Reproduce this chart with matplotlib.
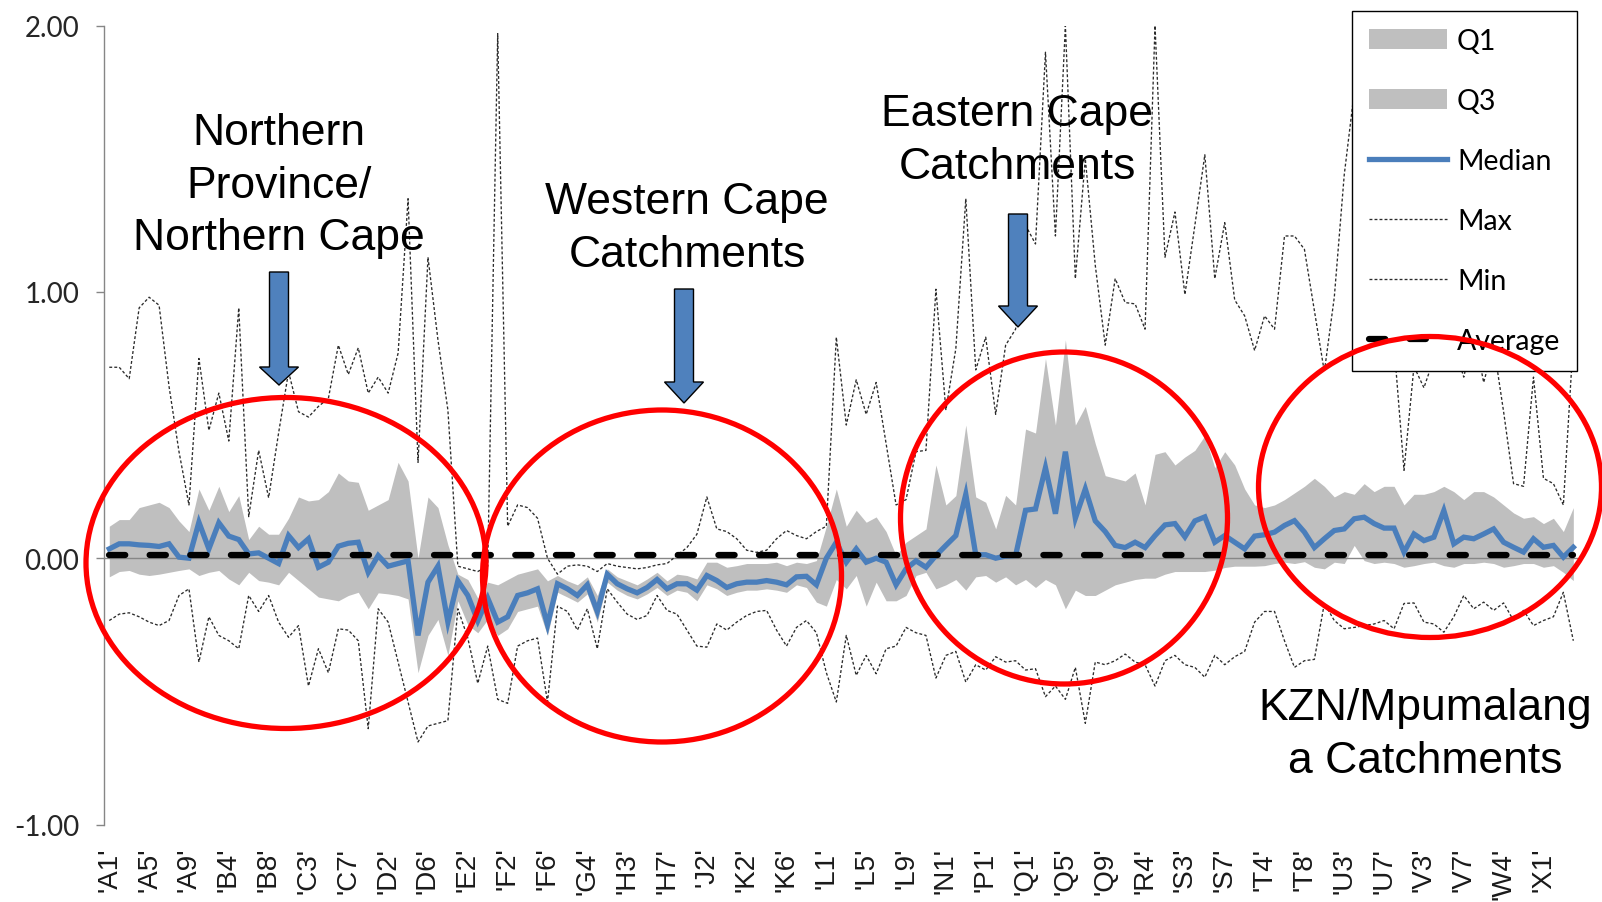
import matplotlib.pyplot as plt
import numpy as np
from matplotlib.patches import Ellipse, Polygon, Patch
from matplotlib.lines import Line2D

# catchment statistics, one value per catchment (148 catchments)
median = [
    0.035, 0.054, 0.054, 0.05, 0.048, 0.044, 0.054, 0.004, 0.0, 0.135,
    0.035, 0.133, 0.083, 0.07, 0.016, 0.02, 0.0, -0.02, 0.085, 0.04,
    0.073, -0.034, -0.015, 0.045, 0.056, 0.06, -0.053, 0.01, -0.03, -0.02,
    -0.01, -0.29, -0.09, -0.03, -0.24, -0.085, -0.14, -0.235, -0.15, -0.24,
    -0.22, -0.14, -0.13, -0.115, -0.25, -0.096, -0.115, -0.14, -0.10, -0.2,
    -0.06, -0.096, -0.115, -0.13, -0.11, -0.08, -0.115, -0.096, -0.096, -0.12,
    -0.065, -0.084, -0.11, -0.096, -0.09, -0.09, -0.084, -0.09, -0.10, -0.07,
    -0.068, -0.10, 0.0, 0.06, -0.015, 0.035, -0.015, 0.0, -0.015, -0.10,
    -0.04, -0.01, -0.034, 0.01, 0.048, 0.085, 0.24, 0.013, 0.013, 0.0,
    0.008, 0.01, 0.18, 0.185, 0.34, 0.167, 0.40, 0.15, 0.26, 0.14,
    0.10, 0.048, 0.04, 0.06, 0.04, 0.085, 0.125, 0.13, 0.08, 0.14,
    0.155, 0.06, 0.085, 0.06, 0.035, 0.083, 0.088, 0.098, 0.123, 0.141,
    0.098, 0.04, 0.073, 0.104, 0.11, 0.148, 0.154, 0.13, 0.113, 0.113,
    0.023, 0.091, 0.066, 0.079, 0.179, 0.054, 0.079, 0.073, 0.091, 0.11,
    0.06, 0.041, 0.023, 0.073, 0.041, 0.048, 0.004, 0.041]

q3 = [
    0.12, 0.145, 0.145, 0.19, 0.2, 0.21, 0.19, 0.14, 0.1, 0.26,
    0.18, 0.27, 0.175, 0.235, 0.07, 0.12, 0.09, 0.09, 0.15, 0.23,
    0.215, 0.22, 0.25, 0.32, 0.29, 0.285, 0.18, 0.2, 0.22, 0.36,
    0.29, 0.0, 0.23, 0.19, 0.05, -0.06, -0.08, -0.15, -0.09, -0.1,
    -0.08, -0.06, -0.05, -0.04, -0.085, -0.065, -0.085, -0.1, -0.07, -0.14,
    -0.04, -0.07, -0.085, -0.1, -0.078, -0.053, -0.085, -0.06, -0.065, -0.078,
    -0.015, -0.015, -0.034, -0.028, -0.02, -0.02, -0.02, -0.015, -0.028, -0.015,
    -0.02, -0.009, 0.12, 0.26, 0.12, 0.18, 0.135, 0.155, 0.1, 0.01,
    0.06, 0.085, 0.11, 0.35, 0.2, 0.235, 0.5, 0.23, 0.21, 0.11,
    0.236, 0.2, 0.485, 0.47, 0.75, 0.5, 0.82, 0.5, 0.57, 0.43,
    0.31, 0.30, 0.29, 0.32, 0.2, 0.39, 0.4, 0.35, 0.38, 0.405,
    0.46, 0.34, 0.40, 0.35, 0.26, 0.2, 0.19, 0.2, 0.22, 0.245,
    0.27, 0.3, 0.27, 0.23, 0.25, 0.24, 0.28, 0.25, 0.27, 0.27,
    0.2, 0.24, 0.24, 0.25, 0.27, 0.25, 0.22, 0.25, 0.25, 0.23,
    0.2, 0.17, 0.15, 0.156, 0.13, 0.15, 0.1, 0.19]

q1 = [
    -0.07, -0.05, -0.046, -0.06, -0.065, -0.06, -0.053, -0.046, -0.04, -0.065,
    -0.053, -0.046, -0.078, -0.1, -0.053, -0.084, -0.09, -0.1, -0.053, -0.084,
    -0.115, -0.146, -0.153, -0.16, -0.14, -0.128, -0.19, -0.13, -0.134, -0.14,
    -0.153, -0.43, -0.29, -0.23, -0.365, -0.16, -0.25, -0.28, -0.23, -0.29,
    -0.265, -0.2, -0.19, -0.18, -0.29, -0.128, -0.146, -0.165, -0.134, -0.24,
    -0.09, -0.12, -0.14, -0.153, -0.134, -0.11, -0.14, -0.12, -0.128, -0.16,
    -0.1, -0.115, -0.14, -0.128, -0.12, -0.12, -0.115, -0.12, -0.128, -0.1,
    -0.11, -0.165, -0.18, -0.08, -0.115, -0.065, -0.18, -0.09, -0.16, -0.16,
    -0.14, -0.065, -0.053, -0.115, -0.1, -0.08, -0.12, -0.07, -0.065, -0.09,
    -0.07, -0.1, -0.08, -0.11, -0.08, -0.1, -0.19, -0.12, -0.14, -0.14,
    -0.12, -0.1, -0.09, -0.08, -0.075, -0.075, -0.06, -0.05, -0.05, -0.05,
    -0.05, -0.045, -0.035, -0.03, -0.03, -0.03, -0.028, -0.02, -0.015, -0.02,
    -0.013, -0.034, -0.04, -0.015, -0.02, 0.048, -0.009, -0.02, -0.015, -0.02,
    -0.034, -0.028, -0.02, -0.015, -0.028, -0.034, -0.02, -0.02, -0.015, -0.02,
    -0.034, -0.028, -0.02, -0.02, -0.034, -0.028, -0.053, -0.084]

max_v = [
    0.717, 0.717, 0.674, 0.94, 0.98, 0.95, 0.645, 0.40, 0.2, 0.75,
    0.48, 0.62, 0.44, 0.94, 0.156, 0.405, 0.227, 0.47, 0.70, 0.55,
    0.53, 0.57, 0.6, 0.80, 0.69, 0.79, 0.62, 0.68, 0.62, 0.77,
    1.35, 0.36, 1.13, 0.82, 0.556, -0.03, -0.04, -0.05, -0.03, 1.97,
    0.12, 0.2, 0.19, 0.15, 0.0, -0.06, -0.03, -0.025, -0.03, -0.05,
    -0.02, -0.03, -0.035, -0.04, -0.035, -0.025, -0.02, 0.01, 0.04, 0.09,
    0.23, 0.11, 0.1, 0.073, 0.03, 0.022, 0.03, 0.073, 0.104, 0.085,
    0.073, 0.1, 0.12, 0.83, 0.50, 0.67, 0.54, 0.66, 0.43, 0.2,
    0.22, 0.40, 0.405, 1.01, 0.556, 0.787, 1.35, 0.707, 0.83, 0.54,
    0.80, 0.86, 1.25, 1.18, 1.90, 1.21, 2.0, 1.05, 1.5, 1.1,
    0.8, 1.05, 0.96, 0.955, 0.86, 2.0, 1.13, 1.30, 0.99, 1.25,
    1.515, 1.05, 1.26, 0.97, 0.91, 0.78, 0.91, 0.86, 1.21, 1.21,
    1.16, 0.93, 0.70, 0.98, 1.44, 1.75, 1.45, 1.2, 0.95, 0.8,
    0.33, 0.72, 0.64, 0.75, 0.9, 0.8, 0.68, 0.85, 0.66, 0.8,
    0.55, 0.28, 0.27, 0.68, 0.3, 0.28, 0.2, 0.82]

min_v = [
    -0.234, -0.21, -0.205, -0.22, -0.24, -0.253, -0.234, -0.14, -0.115, -0.39,
    -0.22, -0.29, -0.31, -0.34, -0.14, -0.2, -0.14, -0.24, -0.297, -0.253,
    -0.48, -0.34, -0.43, -0.265, -0.27, -0.31, -0.64, -0.19, -0.24, -0.39,
    -0.54, -0.69, -0.63, -0.62, -0.61, -0.19, -0.3, -0.47, -0.33, -0.53,
    -0.545, -0.33, -0.31, -0.30, -0.54, -0.18, -0.2, -0.27, -0.19, -0.34,
    -0.115, -0.165, -0.21, -0.23, -0.215, -0.14, -0.196, -0.21, -0.27, -0.33,
    -0.334, -0.247, -0.27, -0.24, -0.215, -0.2, -0.196, -0.27, -0.33, -0.26,
    -0.234, -0.28, -0.43, -0.54, -0.29, -0.44, -0.365, -0.434, -0.34, -0.33,
    -0.26, -0.28, -0.29, -0.45, -0.365, -0.35, -0.465, -0.4, -0.42, -0.37,
    -0.39, -0.385, -0.42, -0.415, -0.52, -0.48, -0.53, -0.41, -0.62, -0.39,
    -0.40, -0.385, -0.36, -0.39, -0.40, -0.48, -0.385, -0.365, -0.40, -0.41,
    -0.447, -0.365, -0.40, -0.37, -0.35, -0.24, -0.2, -0.2, -0.31, -0.41,
    -0.385, -0.38, -0.17, -0.234, -0.265, -0.26, -0.253, -0.247, -0.234, -0.265,
    -0.17, -0.168, -0.24, -0.247, -0.278, -0.22, -0.14, -0.19, -0.165, -0.196,
    -0.168, -0.234, -0.196, -0.253, -0.234, -0.22, -0.128, -0.31]

average = 0.013

tick_labels = ["'A1'", "'A5'", "'A9'", "'B4'", "'B8'", "'C3'", "'C7'", "'D2'",
               "'D6'", "'E2'", "'F2'", "'F6'", "'G4'", "'H3'", "'H7'", "'J2'",
               "'K2'", "'K6'", "'L1'", "'L5'", "'L9'", "'N1'", "'P1'", "'Q1'",
               "'Q5'", "'Q9'", "'R4'", "'S3'", "'S7'", "'T4'", "'T8'", "'U3'",
               "'U7'", "'V3'", "'V7'", "'W4'", "'X1'"]
label_step = 4

regions = ["Northern\nProvince/\nNorthern Cape", "Western Cape\nCatchments",
           "Eastern Cape\nCatchments", "KZN/Mpumalang\na Catchments"]

for s in (q1, q3, max_v, min_v):
    assert len(s) == len(median)

W, H = 1602, 903
blue = '#4A7EBB'
band = '#BFBFBF'
axis_grey = '#868686'

fig = plt.figure(figsize=(W / 100, H / 100), dpi=100)
ax = fig.add_axes([104.3 / W, 1 - 825.5 / H, 1474 / W, (825.5 - 26.6) / H])

x = np.arange(len(median))
ax.fill_between(x, q1, q3, color=band, lw=0, zorder=1)
ax.axhline(0, color=axis_grey, lw=1.0, zorder=1.5)
thin_dash = (0, (2.2, 1.6))
ax.plot(x, max_v, color='#2b2b2b', lw=0.95, ls=thin_dash, zorder=2)
ax.plot(x, min_v, color='#2b2b2b', lw=0.95, ls=thin_dash, zorder=2)
ax.plot(x, median, color=blue, lw=3.8, zorder=3, solid_joinstyle='miter')
ax.plot(x, np.full(len(x), average), color='black', lw=4.5,
        ls=(0, (2.6, 3.9)), dash_capstyle='round', zorder=4)

ax.set_xlim(-0.5, len(x) - 0.5)
ax.set_ylim(-1, 2)
ax.set_yticks([-1, 0, 1, 2])
ax.set_yticklabels(['-1.00', '0.00', '1.00', '2.00'])
ax.set_xticks(x[::label_step])
ax.set_xticklabels(tick_labels, rotation=90, va='top', ha='center',
                   family='Liberation Sans', fontsize=20, color='#1a1a1a')
ax.tick_params(axis='x', length=0, pad=16)
ax.tick_params(axis='y', direction='out', length=6, width=1, color=axis_grey,
               pad=12, labelsize=20, labelcolor='#262626')
for t in ax.get_yticklabels():
    t.set_family('Lato')
for side in ('top', 'right', 'bottom'):
    ax.spines[side].set_visible(False)
ax.spines['left'].set_color(axis_grey)
ax.spines['left'].set_linewidth(1.0)

handles = [Patch(facecolor=band, edgecolor='none'),
           Patch(facecolor=band, edgecolor='none'),
           Line2D([], [], color=blue, lw=3.8),
           Line2D([], [], color='#2b2b2b', lw=0.95, ls=thin_dash),
           Line2D([], [], color='#2b2b2b', lw=0.95, ls=thin_dash),
           Line2D([], [], color='black', lw=4.5, ls=(0, (2.6, 3.9)), dash_capstyle='round')]
leg = ax.legend(handles, ['Q1', 'Q3', 'Median', 'Max', 'Min', 'Average'],
                loc='upper right', bbox_to_anchor=(1577 / W, 1 - 12 / H),
                bbox_transform=fig.transFigure, fancybox=False, framealpha=1,
                edgecolor='black', prop={'family': 'Lato', 'size': 20.5},
                handlelength=2.75, handletextpad=0.35, labelspacing=1.2,
                borderpad=0.58, borderaxespad=0)
leg.get_frame().set_linewidth(1.0)


def fig_xy(px, py):
    return px / W, 1 - py / H


# region captions
for label, (cx, cy) in zip(regions, [(279, 186), (687, 229), (1017, 141), (1425, 735)]):
    fig.text(*fig_xy(cx, cy), label, ha='center', va='center', fontsize=32,
             family='Liberation Sans', color='black', linespacing=1.37, zorder=6)

# block arrows
for cx, top, head, tip in [(279, 273, 368, 386), (684, 290, 383, 404), (1018, 215, 307, 328)]:
    pts = [(cx - 9.5, top), (cx + 9.5, top), (cx + 9.5, head), (cx + 19.5, head),
           (cx, tip), (cx - 19.5, head), (cx - 9.5, head)]
    fig.add_artist(Polygon([fig_xy(px, py) for px, py in pts], closed=True,
                           transform=fig.transFigure, facecolor='#4F81BD',
                           edgecolor='black', lw=1.0, zorder=5))

# red ellipses around the regions
for cx, cy, w, h in [(286, 564, 400, 331), (662, 577, 359, 332),
                     (1064, 519, 327, 332), (1430, 488, 343, 301)]:
    fig.add_artist(Ellipse(fig_xy(cx, cy), w / W, h / H, transform=fig.transFigure,
                           fill=False, edgecolor='#FF0000', lw=3.8, zorder=5))

fig.savefig('out.png', dpi=100)
